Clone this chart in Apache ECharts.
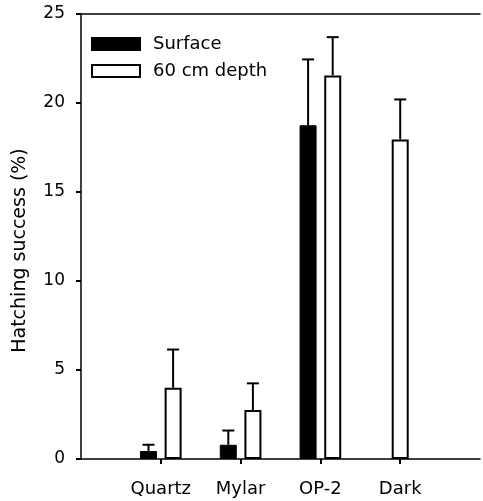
<!DOCTYPE html>
<html>
<head>
<meta charset="utf-8">
<script src="https://cdn.jsdelivr.net/npm/echarts@6/dist/echarts.min.js"></script>
<style>
  html, body { margin: 0; padding: 0; background: #fff; }
  #main { width: 483px; height: 501px; }
</style>
</head>
<body>
<div id="main"></div>
<script>
var categories = ['Quartz', 'Mylar', 'OP-2', 'Dark'];
var surface = [0.45, 0.8, 18.75, null];
var surfaceErr = [0.35, 0.8, 3.7, null];
var depth = [4.0, 2.75, 21.55, 17.95];
var depthErr = [2.15, 1.5, 2.15, 2.25];
var yTicks = [0, 5, 10, 15, 20, 25];

// padded category axis so the groups sit one slot in from each end
var axisData = [''].concat(categories, ['']);
function pad(arr) { return [null].concat(arr, [null]); }

// depth bars that have a surface partner go in the grouped series,
// lone ones (Dark) go on the second axis so they are centred
var depthPaired = depth.map(function (v, i) { return surface[i] == null ? null : v; });
var depthAlone = depth.map(function (v, i) { return surface[i] == null ? v : null; });

function errData(vals, errs, paired) {
    var out = [];
    vals.forEach(function (v, i) {
        if (v == null) return;
        if (paired === true && surface[i] == null) return;
        if (paired === false && surface[i] != null) return;
        out.push([i + 1, v, v + errs[i]]);
    });
    return out;
}

function errSeries(data, offset, axisIdx) {
    return {
        type: 'custom',
        xAxisIndex: axisIdx,
        silent: true,
        z: 1,
        data: data,
        encode: { x: 0, y: [1, 2] },
        renderItem: function (params, api) {
            var lo = api.coord([api.value(0), api.value(1)]);
            var hi = api.coord([api.value(0), api.value(2)]);
            var x = lo[0] + offset;
            return {
                type: 'group',
                children: [
                    { type: 'line', shape: { x1: x, y1: lo[1], x2: x, y2: hi[1] },
                      style: { stroke: '#000', lineWidth: 2 } },
                    { type: 'line', shape: { x1: x - 6, y1: hi[1], x2: x + 6, y2: hi[1] },
                      style: { stroke: '#000', lineWidth: 2 } }
                ]
            };
        }
    };
}

var myChart = echarts.init(document.getElementById('main'));
var option = {
    animation: false,
    textStyle: { fontFamily: 'DejaVu Sans, sans-serif', color: '#000' },
    grid: { left: 81, right: 0, top: 14, bottom: 42 },
    legend: {
        left: 86,
        top: 30,
        orient: 'vertical',
        itemWidth: 48,
        itemHeight: 12,
        itemGap: 9,
        icon: 'rect',
        data: ['Surface', '60 cm depth'],
        textStyle: { fontSize: 18, color: '#000', padding: [0, 0, 0, 8] }
    },
    xAxis: [{
        type: 'category',
        data: axisData,
        boundaryGap: false,
        axisLine: { lineStyle: { color: '#000', width: 1.5 } },
        axisTick: {
            length: 5,
            lineStyle: { color: '#000', width: 2 },
            interval: function (i) { return i > 0 && i < axisData.length - 1; }
        },
        axisLabel: {
            interval: 0,
            fontSize: 18,
            color: '#000',
            margin: 21
        },
        splitLine: { show: false }
    }, {
        type: 'category',
        data: axisData,
        boundaryGap: false,
        position: 'top',
        axisLine: { lineStyle: { color: '#000', width: 1.5 } },
        axisTick: { show: false },
        axisLabel: { show: false },
        splitLine: { show: false }
    }],
    yAxis: {
        type: 'value',
        min: yTicks[0],
        max: yTicks[yTicks.length - 1],
        interval: 5,
        name: 'Hatching success (%)',
        nameLocation: 'middle',
        nameGap: 51,
        nameTextStyle: { fontSize: 19, color: '#000', padding: [0, 28, 0, 0] },
        axisLine: { show: true, lineStyle: { color: '#000', width: 1.5 } },
        axisTick: { show: true, length: 5, lineStyle: { color: '#000', width: 2 } },
        axisLabel: { fontSize: 17, color: '#000', margin: 16 },
        splitLine: { show: false }
    },
    series: [
        {
            name: 'Surface',
            type: 'bar',
            xAxisIndex: 0,
            barWidth: 17,
            barGap: '45%',
            z: 2,
            data: pad(surface),
            itemStyle: { color: '#000', borderColor: '#000', borderWidth: 1 }
        },
        {
            name: '60 cm depth',
            type: 'bar',
            xAxisIndex: 0,
            barWidth: 17,
            barGap: '45%',
            z: 2,
            data: pad(depthPaired),
            itemStyle: { color: '#fff', borderColor: '#000', borderWidth: 2 }
        },
        {
            name: '60 cm depth',
            type: 'bar',
            xAxisIndex: 1,
            barWidth: 17,
            z: 2,
            data: pad(depthAlone),
            itemStyle: { color: '#fff', borderColor: '#000', borderWidth: 2 }
        },
        errSeries(errData(surface, surfaceErr), -12.3, 0),
        errSeries(errData(depth, depthErr, true), 12.3, 0),
        errSeries(errData(depth, depthErr, false), 0, 1)
    ]
};
myChart.setOption(option);
</script>
</body>
</html>
